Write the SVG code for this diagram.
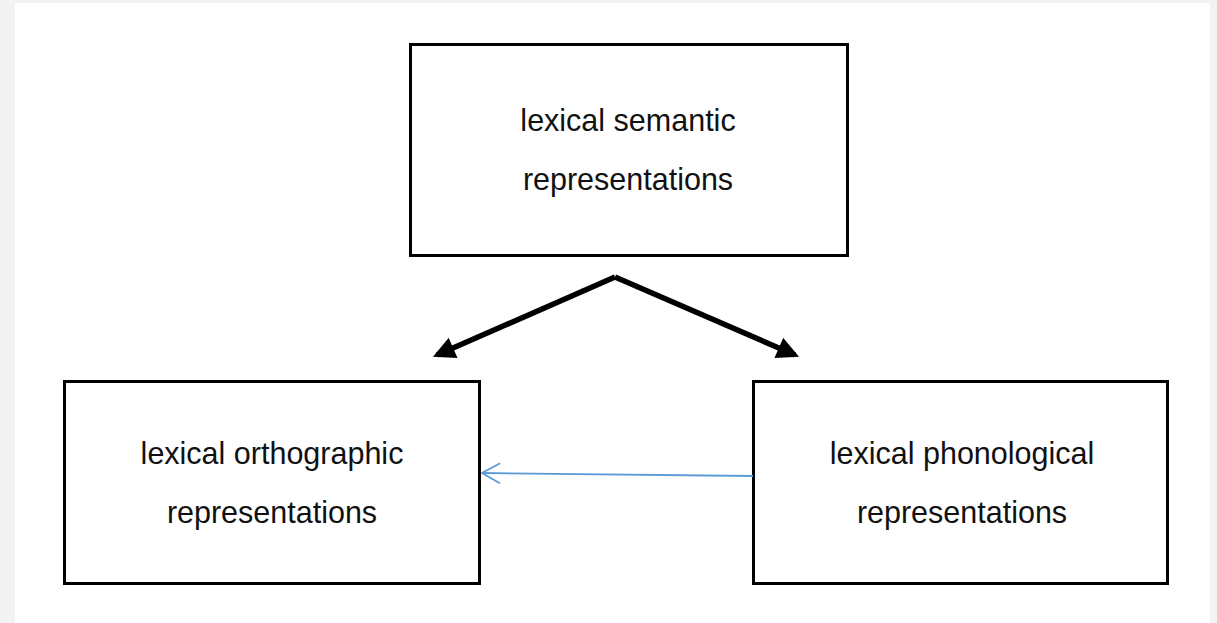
<svg xmlns="http://www.w3.org/2000/svg" width="1217" height="623" viewBox="0 0 1217 623">
  <style>
    .box { fill: #ffffff; stroke: #000000; stroke-width: 3; }
    .label { font-family: "Liberation Sans", Arial, sans-serif; font-size: 30.5px; fill: #111111; text-anchor: middle; }
    .thick { stroke: #000000; stroke-width: 5.5; fill: none; }
    .thin { stroke: #5b9bd5; stroke-width: 1.8; fill: none; }
  </style>
  <defs>
    <marker id="solidHead" viewBox="0 0 10 10" refX="8" refY="5" markerWidth="24" markerHeight="22" orient="auto" markerUnits="userSpaceOnUse">
      <path d="M0,0 L10,5 L0,10 z" fill="#000000"/>
    </marker>
    <marker id="openHead" viewBox="0 0 20 22" refX="19" refY="11" markerWidth="20" markerHeight="22" orient="auto" markerUnits="userSpaceOnUse">
      <path d="M1,1 L19,11 L1,21" fill="none" stroke="#5b9bd5" stroke-width="1.8"/>
    </marker>
  </defs>

  <!-- page background and white sheet -->
  <rect x="0" y="0" width="1217" height="623" fill="#f3f3f3"/>
  <rect x="15" y="3" width="1195" height="620" fill="#ffffff"/>

  <g id="semantic">
    <rect class="box" x="410.5" y="44.5" width="437" height="211"/>
    <text class="label" x="628" y="131">lexical semantic</text>
    <text class="label" x="628" y="190">representations</text>
  </g>

  <g id="orthographic">
    <rect class="box" x="64.5" y="381.5" width="415" height="202"/>
    <text class="label" x="272" y="464">lexical orthographic</text>
    <text class="label" x="272" y="523">representations</text>
  </g>

  <g id="phonological">
    <rect class="box" x="753.5" y="381.5" width="414" height="202"/>
    <text class="label" x="962" y="464">lexical phonological</text>
    <text class="label" x="962" y="523">representations</text>
  </g>

  <g id="connectors">
    <path class="thick" d="M615,277 L437,355" marker-end="url(#solidHead)"/>
    <path class="thick" d="M615,277 L795,355" marker-end="url(#solidHead)"/>
    <path class="thin" d="M753,476 L482,473" marker-end="url(#openHead)"/>
  </g>
</svg>
